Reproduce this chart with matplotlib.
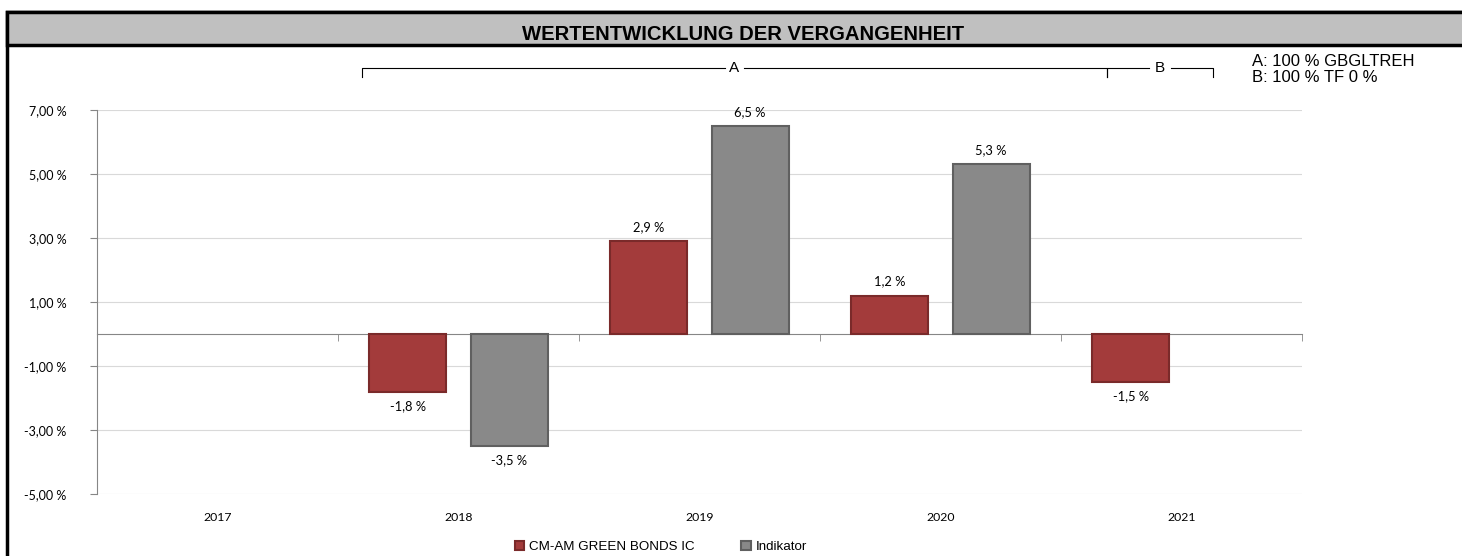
import numpy as np
import matplotlib.pyplot as plt
import matplotlib.transforms as mtransforms
from matplotlib.patches import Rectangle

# Data
years = ["2017", "2018", "2019", "2020", "2021"]
fund = [np.nan, -1.8, 2.9, 1.2, -1.5]
indicator = [np.nan, -3.5, 6.5, 5.3, np.nan]
fund_name = "CM-AM GREEN BONDS IC"
indicator_name = "Indikator"
y_ticks = [-5, -3, -1, 1, 3, 5, 7]
# benchmark periods: (label, start, end) in category units
periods = [("A", 0.6, 3.69), ("B", 3.69, 4.13)]
period_notes = ["A: 100 % GBGLTREH", "B: 100 % TF 0 %"]

red = "#A33B3B"
red_edge = "#7A2A2A"
grey = "#898989"
grey_edge = "#606060"

plt.rcParams["font.family"] = ["Lato", "DejaVu Sans"]

fig = plt.figure(figsize=(14.62, 5.56), dpi=100)

# frame and title band
W, H = 1462, 556
fig.patches.append(Rectangle((7 / W, -0.1), 1.2, 1.1 - 12 / H, transform=fig.transFigure,
                             fill=False, edgecolor="black", linewidth=2.5, zorder=0))
fig.patches.append(Rectangle((7 / W, 1 - 45 / H), 1.2, 33 / H, transform=fig.transFigure,
                             facecolor="#C0C0C0", edgecolor="black", linewidth=2.5, zorder=0))
fig.text(743 / W, 1 - 34 / H, "WERTENTWICKLUNG DER VERGANGENHEIT", ha="center", va="center",
         fontsize=14.6, fontweight="bold", family="Liberation Sans")

ax = fig.add_axes([97 / W, 1 - 494 / H, (1302 - 97) / W, (494 - 110) / H])

x = np.arange(len(years))
bw = 0.32
off = 0.21
b1 = ax.bar(x - off, fund, bw, color=red, edgecolor=red_edge, linewidth=1.5, label=fund_name, zorder=3)
b2 = ax.bar(x + off, indicator, bw, color=grey, edgecolor=grey_edge, linewidth=1.5, label=indicator_name, zorder=3)

# value labels
for bars, vals in ((b1, fund), (b2, indicator)):
    for rect, v in zip(bars, vals):
        if np.isnan(v):
            continue
        txt = ("%.1f %%" % v).replace(".", ",")
        cx = rect.get_x() + rect.get_width() / 2
        if v >= 0:
            ax.annotate(txt, (cx, v), xytext=(0, 6), textcoords="offset points",
                        ha="center", va="bottom", fontsize=9.3)
        else:
            ax.annotate(txt, (cx, v), xytext=(0, -6), textcoords="offset points",
                        ha="center", va="top", fontsize=9.3)

ax.set_xlim(-0.5, len(years) - 0.5)
ax.set_ylim(-5, 7)
ax.set_yticks(y_ticks)
ax.set_yticklabels([("%.2f %%" % t).replace(".", ",") for t in y_ticks], fontsize=9)
ax.yaxis.grid(True, color="#D9D9D9", linewidth=0.8, zorder=0)
ax.set_axisbelow(True)

for s in ("top", "right"):
    ax.spines[s].set_visible(False)
ax.spines["left"].set_color("#868686")
ax.spines["bottom"].set_position(("data", 0))
ax.spines["bottom"].set_color("#868686")
ax.tick_params(axis="y", length=5, color="#868686", pad=17)

ax.set_xticks(x)
ax.set_xticklabels([])
ax.tick_params(axis="x", which="major", length=0)
ax.set_xticks(np.arange(len(years) + 1) - 0.5, minor=True)
ax.tick_params(axis="x", which="minor", length=5, color="#868686")

trans_x = mtransforms.blended_transform_factory(ax.transData, ax.transAxes)
for xi, yr in zip(x, years):
    ax.text(xi, -0.062, yr, transform=trans_x, ha="center", va="center", fontsize=8.8)

# period brackets
trans_b = mtransforms.blended_transform_factory(ax.transData, fig.transFigure)
yb = 1 - 68 / H
tick_h = 9 / H
for name, a, b in periods:
    mid = (a + b) / 2
    gap = 0.04 if name == "A" else 0.045
    ax.plot([a, a, mid - gap], [yb - tick_h, yb, yb], color="black", lw=0.8,
            transform=trans_b, clip_on=False)
    ax.plot([mid + gap, b, b], [yb, yb, yb - tick_h], color="black", lw=0.8,
            transform=trans_b, clip_on=False)
    ax.text(mid, yb, name, transform=trans_b, ha="center", va="center", fontsize=11,
            family="Liberation Sans")

fig.text(1252 / W, 1 - 62 / H, period_notes[0], fontsize=12, family="Liberation Sans", va="center")
fig.text(1252 / W, 1 - 78 / H, period_notes[1], fontsize=12, family="Liberation Sans", va="center")

fig.legend(handles=[b1, b2], loc="center", bbox_to_anchor=(661 / W, 1 - 547 / H), ncol=2,
           frameon=False, handlelength=0.7, handleheight=0.7, columnspacing=3.5,
           handletextpad=0.4, prop={"family": "Liberation Sans", "size": 9.6})

fig.savefig("out.png", dpi=100)
